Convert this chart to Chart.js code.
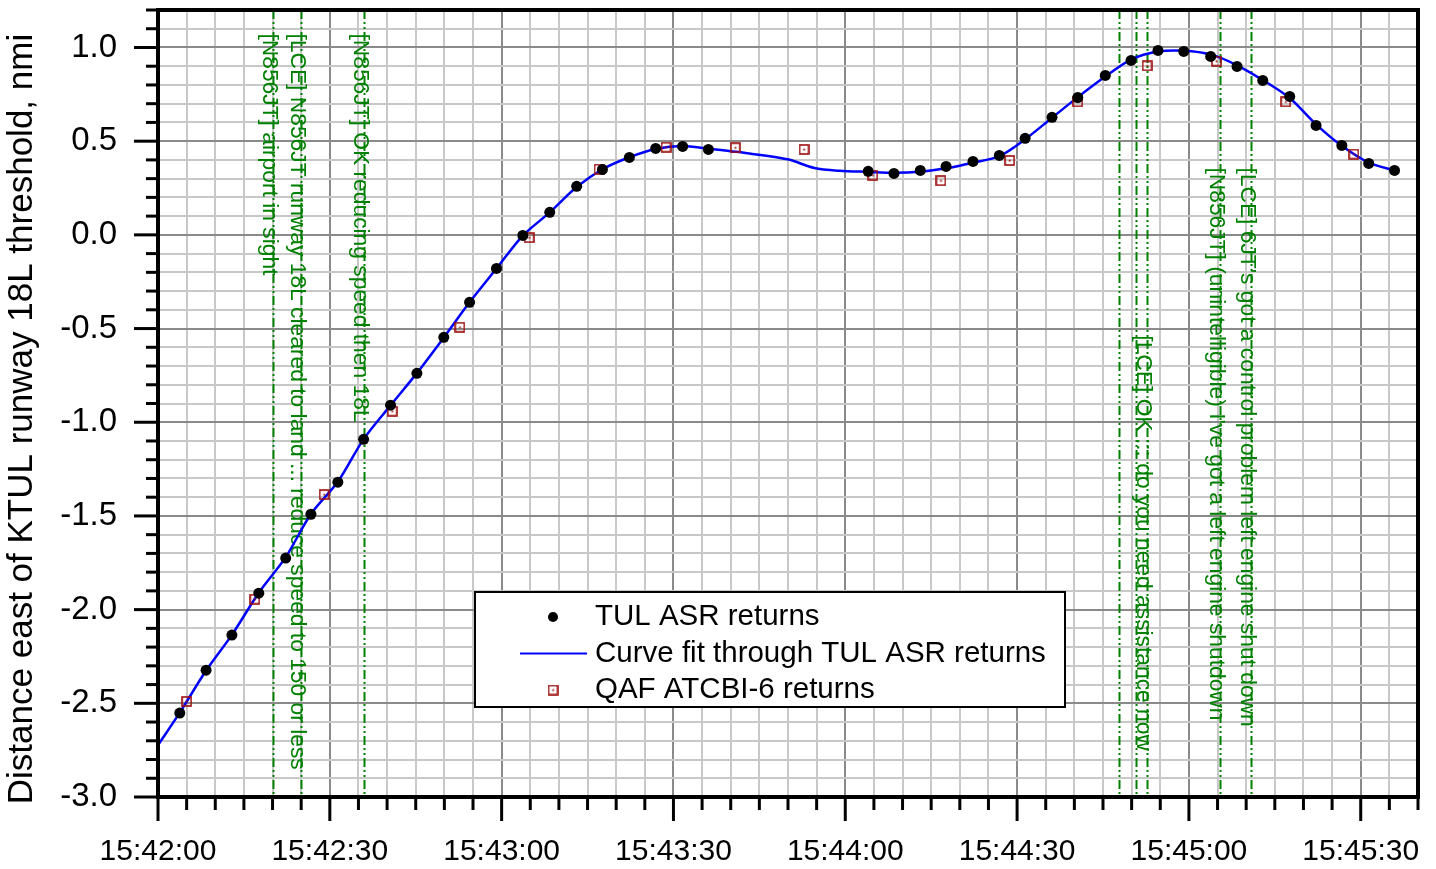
<!DOCTYPE html>
<html>
<head>
<meta charset="utf-8">
<title>Distance east of KTUL runway 18L threshold</title>
<script src="https://cdn.jsdelivr.net/npm/chart.js@4.4.1/dist/chart.umd.min.js"></script>
<style>
  html, body { margin: 0; padding: 0; background: #fff; }
</style>
</head>
<body>
<canvas id="chart" width="1436" height="869"></canvas>
<script>
// Times are seconds after 15:42:00
const clockStart = { h: 15, m: 42, s: 0 };

// TUL ASR radar returns
const asrTime = [3.8, 8.4, 12.9, 17.6, 22.3, 26.7, 31.4, 35.9, 40.6, 45.2, 49.9, 54.4, 59.1, 63.7,
  68.4, 73.1, 77.6, 82.3, 86.9, 91.6, 96.1, 124.0, 128.5, 133.1, 137.6, 142.3, 146.9, 151.4,
  156.1, 160.6, 165.4, 169.9, 174.6, 179.1, 183.8, 188.4, 192.9, 197.6, 202.2, 206.7, 211.4, 215.9];
const asrDist = [-2.552, -2.323, -2.136, -1.912, -1.725, -1.491, -1.32, -1.091, -0.909, -0.739, -0.547, -0.36, -0.179, -0.003,
  0.12, 0.259, 0.349, 0.413, 0.461, 0.472, 0.456, 0.339, 0.328, 0.344, 0.365, 0.392, 0.424, 0.515,
  0.627, 0.733, 0.851, 0.931, 0.984, 0.979, 0.952, 0.899, 0.824, 0.739, 0.584, 0.477, 0.381, 0.344];

// Curve fit through the ASR returns
const fitTime = [0, 3.8, 8.4, 12.9, 17.6, 22.3, 26.7, 31.4, 35.9, 40.6, 45.2, 49.9, 54.4, 59.1, 63.7,
  68.4, 73.1, 77.6, 82.3, 86.9, 91.6, 96.1, 101, 109.9, 114.6, 119, 124, 128.5, 133.1, 137.6,
  142.3, 146.9, 151.4, 156.1, 160.6, 165.4, 169.9, 174.6, 179.1, 183.8, 188.4, 192.9, 197.6,
  202.2, 206.7, 211.4, 215.9];
const fitDist = [-2.723, -2.55, -2.325, -2.135, -1.91, -1.72, -1.49, -1.318, -1.09, -0.91, -0.738, -0.548, -0.36, -0.18, -0.004,
  0.12, 0.255, 0.35, 0.414, 0.458, 0.474, 0.46, 0.443, 0.403, 0.357, 0.342, 0.336, 0.331, 0.337, 0.355,
  0.385, 0.42, 0.51, 0.625, 0.735, 0.845, 0.935, 0.978, 0.983, 0.963, 0.905, 0.826, 0.73,
  0.59, 0.475, 0.385, 0.344];

// QAF ATCBI-6 returns
const qafTime = [5.0, 16.9, 29.0, 40.9, 52.7, 64.8, 77.0, 88.7, 100.8, 112.8, 124.8, 136.7, 148.7, 160.6, 172.7, 184.8, 196.9, 208.8];
const qafDist = [-2.49, -1.944, -1.386, -0.941, -0.493, -0.015, 0.351, 0.468, 0.465, 0.456, 0.319, 0.289, 0.397, 0.71, 0.902, 0.927, 0.71, 0.431];

// Radio transmissions (vertical markers)
const eventTime = [20.0, 25.0, 35.9, 167.8, 170.7, 172.7, 185.5, 190.8];
const eventText = [
  "[N856JT] airport in sight",
  "[LCE] N856JT runway 18L cleared to land ... reduce speed to 150 or less",
  "[N856JT] OK reducing speed then 18L",
  "",
  "",
  "[LCE] OK ::: do you need assistance now",
  "[N856JT] (unintelligible) I've got a left engine shutdown",
  "[LCE] 6JT's got a control problem left engine shut down"
];
// where each rotated text starts, in nmi on the y axis
const eventTextTop = [1.075, 1.075, 1.075, 0, 0, -0.536, 0.36, 0.36];

const FONT = '"Liberation Sans", Arial, Helvetica, sans-serif';
const GREEN = "#008000";
const SQUARE_RED = "#9c0c0c";

function clockLabel(sec) {
  const total = clockStart.h * 3600 + clockStart.m * 60 + clockStart.s + Math.round(sec);
  const hh = Math.floor(total / 3600);
  const mm = Math.floor((total % 3600) / 60);
  const ss = total % 60;
  return hh + ":" + String(mm).padStart(2, "0") + ":" + String(ss).padStart(2, "0");
}

function isMajorX(v) { return Math.round(v) % 30 === 0; }
function isMajorY(v) { return Math.abs(v * 2 - Math.round(v * 2)) < 1e-6; }

// small open square with a centre dot, used for the QAF returns
const squareMarker = document.createElement("canvas");
squareMarker.width = 11;
squareMarker.height = 11;
(function () {
  const c = squareMarker.getContext("2d");
  c.strokeStyle = SQUARE_RED;
  c.lineWidth = 1.6;
  c.strokeRect(1, 1, 9, 9);
  c.fillStyle = SQUARE_RED;
  c.fillRect(4.7, 4.7, 1.8, 1.8);
})();

const toPoints = (xs, ys) => xs.map((x, i) => ({ x: x, y: ys[i] }));

// scale sizes are fixed so the plot frame lands where the original one is
function fixScale(size) {
  return function (scale) {
    if (scale.isHorizontal()) scale.height = size; else scale.width = size;
    scale.paddingTop = 0;
    scale.paddingBottom = 0;
    scale.paddingLeft = 0;
    scale.paddingRight = 0;
  };
}

// draws the radio call markers, axis frame, tick marks and the legend box
const decorPlugin = {
  id: "decor",
  beforeDatasetsDraw(chart) {
    const { ctx, chartArea, scales } = chart;
    ctx.save();
    ctx.beginPath();
    ctx.rect(chartArea.left, chartArea.top, chartArea.right - chartArea.left, chartArea.bottom - chartArea.top);
    ctx.clip();
    eventTime.forEach((t, i) => {
      const px = Math.round(scales.x.getPixelForValue(t)) + 0.5;
      ctx.strokeStyle = GREEN;
      ctx.lineWidth = 2;
      ctx.setLineDash([9, 3, 2, 3, 2, 3]);
      ctx.beginPath();
      ctx.moveTo(px, chartArea.top);
      ctx.lineTo(px, chartArea.bottom);
      ctx.stroke();
      if (eventText[i]) {
        ctx.save();
        ctx.translate(px, scales.y.getPixelForValue(eventTextTop[i]));
        ctx.rotate(Math.PI / 2);
        ctx.fillStyle = GREEN;
        ctx.font = "22.8px " + FONT;
        ctx.textAlign = "left";
        ctx.textBaseline = "alphabetic";
        ctx.fillText(eventText[i], 0, 11);
        ctx.restore();
      }
    });
    ctx.restore();
  },
  afterDraw(chart) {
    const { ctx, chartArea, scales } = chart;
    ctx.save();
    ctx.setLineDash([]);
    ctx.strokeStyle = "#000";
    // tick marks
    ctx.lineWidth = 3;
    scales.x.ticks.forEach((tk) => {
      const px = scales.x.getPixelForValue(tk.value);
      const len = isMajorX(tk.value) ? 24 : 13;
      ctx.beginPath();
      ctx.moveTo(px, chartArea.bottom);
      ctx.lineTo(px, chartArea.bottom + len);
      ctx.stroke();
    });
    scales.y.ticks.forEach((tk) => {
      const py = scales.y.getPixelForValue(tk.value);
      const len = isMajorY(tk.value) ? 24 : 12;
      ctx.beginPath();
      ctx.moveTo(chartArea.left, py);
      ctx.lineTo(chartArea.left - len, py);
      ctx.stroke();
    });
    // frame
    ctx.lineWidth = 4;
    ctx.strokeRect(chartArea.left, chartArea.top, chartArea.right - chartArea.left, chartArea.bottom - chartArea.top);

    // y axis title
    ctx.save();
    ctx.translate(22, 419);
    ctx.rotate(-Math.PI / 2);
    ctx.fillStyle = "#000";
    ctx.font = "35px " + FONT;
    ctx.textAlign = "center";
    ctx.textBaseline = "middle";
    ctx.fillText("Distance east of KTUL runway 18L threshold, nmi", 0, 0);
    ctx.restore();

    // legend
    const box = { x: 475, y: 592, w: 590, h: 115 };
    ctx.fillStyle = "#fff";
    ctx.fillRect(box.x, box.y, box.w, box.h);
    ctx.lineWidth = 2;
    ctx.strokeStyle = "#000";
    ctx.strokeRect(box.x, box.y, box.w, box.h);
    const ds = chart.data.datasets;
    const rows = [617, 653.5, 690];
    ctx.font = "29.5px " + FONT;
    ctx.textAlign = "left";
    ctx.textBaseline = "middle";
    ds.forEach((d, r) => {
      const y = rows[r];
      if (d.showLine === false && d.pointStyle === "circle") {
        ctx.fillStyle = d.backgroundColor;
        ctx.beginPath();
        ctx.arc(553, y, 5, 0, Math.PI * 2);
        ctx.fill();
      } else if (d.showLine === false) {
        ctx.drawImage(squareMarker, 553 - 5.5, y - 5.5);
      } else {
        ctx.strokeStyle = d.borderColor;
        ctx.lineWidth = 2;
        ctx.beginPath();
        ctx.moveTo(520, y);
        ctx.lineTo(587, y);
        ctx.stroke();
      }
      ctx.fillStyle = "#000";
      ctx.fillText(d.label, 595, y);
    });
    ctx.restore();
  }
};

new Chart(document.getElementById("chart"), {
  type: "scatter",
  data: {
    datasets: [
      {
        label: "TUL ASR returns",
        data: toPoints(asrTime, asrDist),
        showLine: false,
        pointStyle: "circle",
        pointRadius: 5.5,
        pointBorderWidth: 0,
        backgroundColor: "#000",
        borderColor: "#000",
        order: 1
      },
      {
        label: "Curve fit through TUL ASR returns",
        data: toPoints(fitTime, fitDist),
        showLine: true,
        pointRadius: 0,
        borderColor: "#0000ff",
        borderWidth: 2.5,
        tension: 0.3,
        order: 3
      },
      {
        label: "QAF ATCBI-6 returns",
        data: toPoints(qafTime, qafDist),
        showLine: false,
        pointStyle: squareMarker,
        pointRadius: 5,
        order: 2
      }
    ]
  },
  options: {
    responsive: false,
    animation: false,
    devicePixelRatio: 1,
    layout: { padding: { left: 0, right: 18, top: 10, bottom: 0 } },
    plugins: {
      legend: { display: false },
      tooltip: { enabled: false }
    },
    scales: {
      x: {
        type: "linear",
        position: "bottom",
        min: 0,
        max: 220,
        afterFit: fixScale(72),
        border: { display: false },
        grid: {
          drawTicks: false,
          lineWidth: 2,
          color: (c) => (isMajorX(c.tick.value) ? "#8a8a8a" : "#c8c8c8")
        },
        ticks: {
          stepSize: 5,
          autoSkip: false,
          maxRotation: 0,
          minRotation: 0,
          padding: 37,
          color: "#000",
          font: { family: FONT, size: 30 },
          callback: (v) => (isMajorX(v) ? clockLabel(v) : "")
        }
      },
      y: {
        type: "linear",
        min: -3,
        max: 1.2,
        afterFit: fixScale(158),
        border: { display: false },
        grid: {
          drawTicks: false,
          lineWidth: 2,
          color: (c) => (isMajorY(c.tick.value) ? "#8a8a8a" : "#c8c8c8")
        },
        ticks: {
          stepSize: 0.1,
          autoSkip: false,
          padding: 41,
          color: "#000",
          font: { family: FONT, size: 33 },
          callback: (v) => (isMajorY(v) ? (Math.round(v * 10) / 10).toFixed(1) : "")
        }
      }
    }
  },
  plugins: [decorPlugin]
});
</script>
</body>
</html>
